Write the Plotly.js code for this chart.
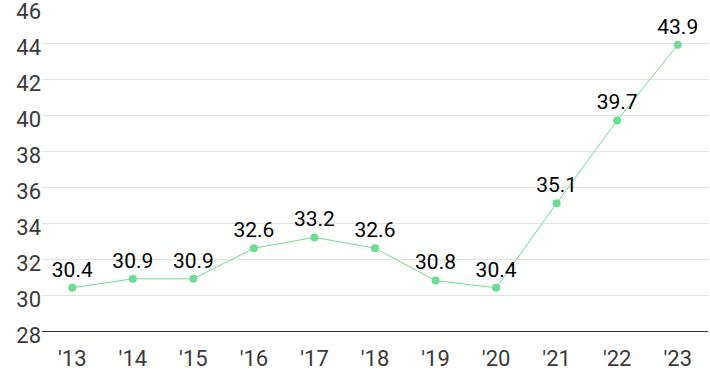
<!DOCTYPE html>
<html><head><meta charset="utf-8">
<script src="https://cdn.plot.ly/plotly-3.0.1.min.js"></script>
<style>html,body{margin:0;padding:0;background:#fff;}#chart{width:710px;height:371px;}</style>
</head><body><div id="chart"></div>
<script>
const years = ["'13","'14","'15","'16","'17","'18","'19","'20","'21","'22","'23"];
const values = [30.4,30.9,30.9,32.6,33.2,32.6,30.8,30.4,35.1,39.7,43.9];
const yTicks = [28,30,32,34,36,38,40,42,44,46];

Plotly.newPlot('chart', [{
  x: years, y: values, type: 'scatter', mode: 'lines+markers+text',
  text: values.map(v => v.toFixed(1)), textposition: 'top center',
  textfont: {family: 'Roboto, Arial, sans-serif', size: 21, color: '#000'},
  line: {color: '#6ddc93', width: 1},
  marker: {color: '#6ddc93', size: 8},
  cliponaxis: false, hoverinfo: 'none'
}], {
  width: 710, height: 371,
  margin: {l: 42, r: 2, t: 7, b: 40},
  paper_bgcolor: '#fff', plot_bgcolor: '#fff',
  showlegend: false,
  xaxis: {type: 'category', range: [-0.5, 10.5], showgrid: false, zeroline: false,
    showline: true, linecolor: '#333', linewidth: 1,
    ticks: 'outside', ticklen: 8, tickcolor: 'rgba(0,0,0,0)',
    tickfont: {family: 'Roboto, Arial, sans-serif', size: 22, color: '#3a3a3a'}},
  yaxis: {range: [28, 46], tickvals: yTicks, showgrid: true, gridcolor: '#e3e3e3', gridwidth: 1,
    zeroline: false, showline: false, ticks: '', automargin: false,
    ticklabelshift: 4, ticklabeloverflow: 'allow',
    tickfont: {family: 'Roboto, Arial, sans-serif', size: 22, color: '#3a3a3a'}}
}, {staticPlot: true});
</script></body></html>
